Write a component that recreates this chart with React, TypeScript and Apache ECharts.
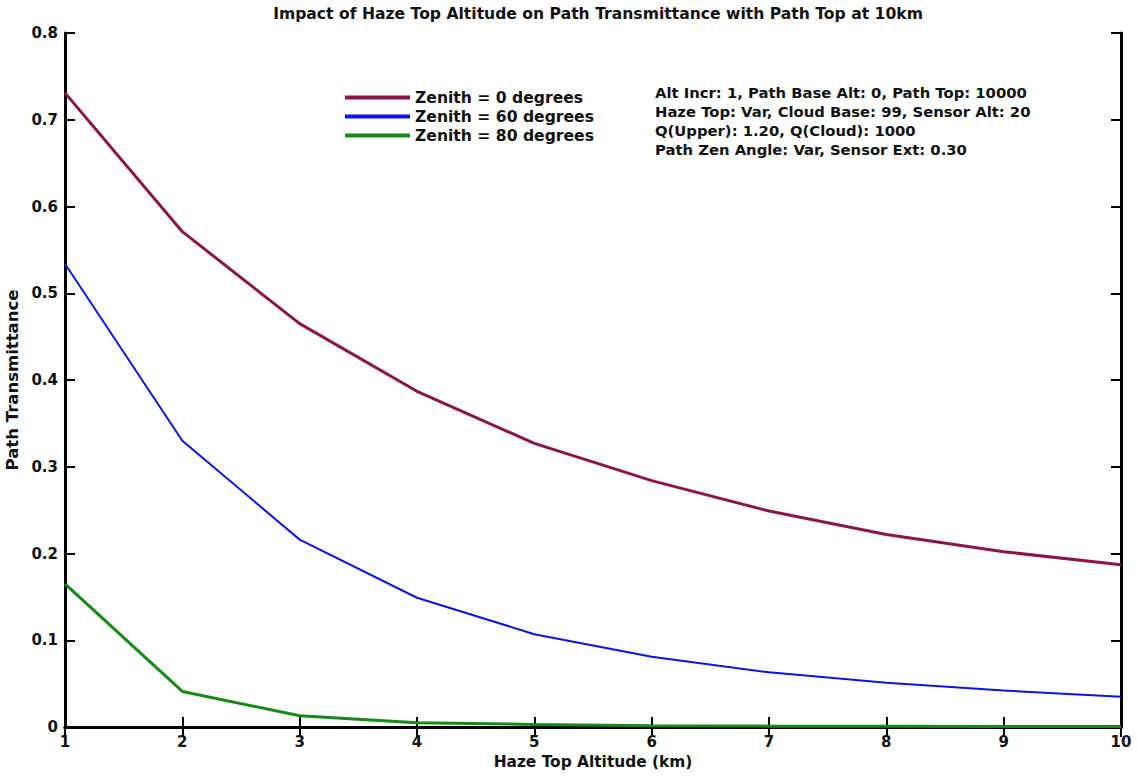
import React, { useEffect, useRef } from "react";
import * as echarts from "echarts";

// Haze top altitude (km)
const hazeTop = [1, 2, 3, 4, 5, 6, 7, 8, 9, 10];
// Path transmittance for each zenith angle
const zenith0 = [0.731, 0.571, 0.465, 0.387, 0.327, 0.284, 0.249, 0.222, 0.202, 0.187];
const zenith60 = [0.534, 0.330, 0.216, 0.149, 0.107, 0.081, 0.063, 0.051, 0.042, 0.035];
const zenith80 = [0.165, 0.041, 0.013, 0.005, 0.003, 0.0015, 0.001, 0.0008, 0.0006, 0.0005];

const seriesNames = ["Zenith = 0 degrees", "Zenith = 60 degrees", "Zenith = 80 degrees"];
const seriesColors = ["#8a1646", "#0a14e6", "#168a16"];
const seriesWidths = [3, 2, 3];

const infoLines = [
  "Alt Incr: 1, Path Base Alt: 0, Path Top: 10000",
  "Haze Top: Var, Cloud Base: 99, Sensor Alt: 20",
  "Q(Upper): 1.20, Q(Cloud): 1000",
  "Path Zen Angle: Var, Sensor Ext: 0.30",
];

const FONT = "'DejaVu Sans', Arial, sans-serif";

export default function App() {
  const ref = useRef<HTMLDivElement>(null);

  useEffect(() => {
    if (!ref.current) return;
    const chart = echarts.init(ref.current, null, { renderer: "svg" });
    const allSeries = [zenith0, zenith60, zenith80];

    const axisLine = { show: true, lineStyle: { color: "#000", width: 3 } };
    const axisTick = { show: true, inside: true, length: 10, lineStyle: { color: "#000", width: 2 } };
    const label = { color: "#111", fontSize: 15, fontWeight: "bold" as const, fontFamily: FONT };

    chart.setOption({
      animation: false,
      backgroundColor: "#fff",
      title: {
        text: "Impact of Haze Top Altitude on Path Transmittance with Path Top at 10km",
        left: 593,
        textAlign: "center",
        top: 1,
        textStyle: { fontSize: 15.6, fontWeight: "bold", color: "#111", fontFamily: FONT },
      },
      legend: {
        show: true,
        orient: "vertical",
        left: 340,
        top: 84,
        itemGap: 2,
        itemWidth: 65,
        itemHeight: 4,
        icon: "rect",
        textStyle: { fontSize: 15.6, fontWeight: "bold", color: "#111", fontFamily: FONT, lineHeight: 17 },
        data: seriesNames,
      },
      grid: { left: 65, right: 16, top: 33, bottom: 50, outerBoundsMode: "none" },
      xAxis: [
        {
          type: "value",
          min: 1,
          max: 10,
          interval: 1,
          name: "Haze Top Altitude (km)",
          nameLocation: "middle",
          nameGap: 27,
          nameTextStyle: { fontSize: 15.4, fontWeight: "bold", color: "#111", fontFamily: FONT },
          axisLine,
          axisTick,
          axisLabel: { ...label, margin: 7 },
          splitLine: { show: false },
        },
        {
          type: "value",
          position: "top",
          min: 1,
          max: 10,
          interval: 1,
          axisLine,
          axisTick,
          axisLabel: { show: false },
          splitLine: { show: false },
        },
      ],
      yAxis: [
        {
          type: "value",
          min: 0,
          max: 0.8,
          interval: 0.1,
          name: "Path Transmittance",
          nameLocation: "middle",
          nameGap: 42,
          nameTextStyle: { fontSize: 16.5, fontWeight: "bold", color: "#111", fontFamily: FONT },
          axisLine,
          axisTick,
          axisLabel: { ...label, margin: 7, formatter: (v: number) => (v === 0 ? "0" : String(Math.round(v * 10) / 10)) },
          splitLine: { show: false },
        },
        {
          type: "value",
          position: "right",
          min: 0,
          max: 0.8,
          interval: 0.1,
          axisLine,
          axisTick,
          axisLabel: { show: false },
          splitLine: { show: false },
        },
      ],
      graphic: infoLines.map((t, i) => ({
        type: "text",
        left: 655,
        top: 85 + i * 19,
        style: { text: t, fill: "#111", font: `bold 14.8px ${FONT}` },
      })),
      series: allSeries.map((vals, i) => ({
        name: seriesNames[i],
        type: "line",
        data: hazeTop.map((x, j) => [x, vals[j]]),
        showSymbol: false,
        symbol: "none",
        lineStyle: { color: seriesColors[i], width: seriesWidths[i] },
        itemStyle: { color: seriesColors[i] },
        z: 3 - i,
      })),
    });

    return () => chart.dispose();
  }, []);

  return (
    <div style={{ position: "fixed", left: 0, top: 0, width: 1137, height: 777, background: "#fff" }}>
      <div ref={ref} style={{ width: 1137, height: 777 }} />
    </div>
  );
}
